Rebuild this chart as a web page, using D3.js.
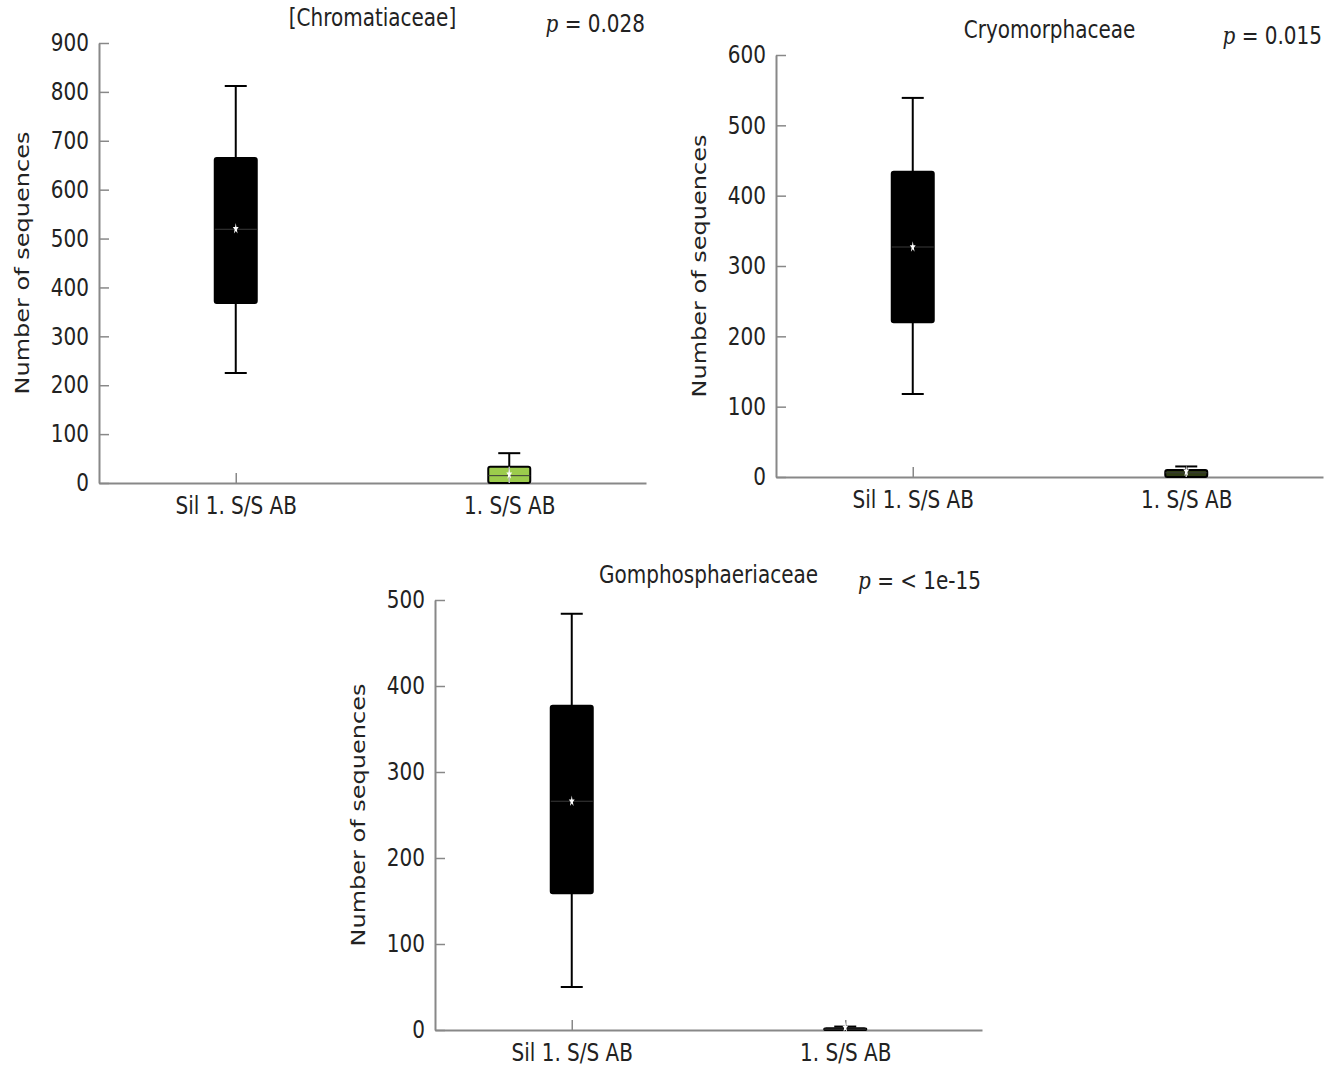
<!DOCTYPE html>
<html>
<head>
<meta charset="utf-8">
<script src="https://cdn.jsdelivr.net/npm/d3@7"></script>
<style>
  body { margin: 0; background: #fff; }
  svg { display: block; }
  text { font-family: "DejaVu Sans", sans-serif; fill: #222; }
</style>
</head>
<body>
<svg></svg>
<script>
const width = 1341;
const height = 1067;
const svg = d3.select("svg").attr("width", width).attr("height", height);

// data
const groups = ["Sil 1. S/S AB", "1. S/S AB"];
const titles = ["[Chromatiaceae]", "Cryomorphaceae", "Gomphosphaeriaceae"];
const pValues = ["0.028", "0.015", "< 1e-15"];
const yMax = [900, 600, 500];
const yStep = [100, 100, 100];
const whiskerLow = [[225, 0], [118, 0], [50, 0]];
const q1 = [[368, 0], [220, 0], [159, 0]];
const median = [[519, 15], [327, 6], [266, 1]];
const q3 = [[665, 33], [434, 10], [377, 2]];
const whiskerHigh = [[812, 61], [539, 15], [484, 4]];
const means = [[520, 18], [327, 8], [266, 3]];
const boxFill = [["#000000", "#9ccc4c"], ["#000000", "#2f3c14"], ["#000000", "#2a2a2a"]];

// panel frames
const panels = [
  { left: 99, top: 43, w: 547, h: 440 },
  { left: 776, top: 55, w: 547, h: 422 },
  { left: 435, top: 600, w: 547, h: 430 }
];

const stretch = 1.2;   // the original picture is stretched vertically
const boxW = 42;
const capW = 22;

panels.forEach((p, i) => {
  const g = svg.append("g").attr("transform", `translate(${p.left},${p.top})`);

  const x = d3.scalePoint().domain(groups).range([0, p.w]).padding(0.5);
  const y = d3.scaleLinear().domain([0, yMax[i]]).range([p.h, 0]);

  // y axis
  const yAxis = g.append("g")
    .call(d3.axisLeft(y).tickValues(d3.range(0, yMax[i] + 1, yStep[i]))
      .tickSizeInner(-10).tickSizeOuter(0).tickPadding(10));
  yAxis.select(".domain").attr("stroke", "#888").attr("stroke-width", 2);
  yAxis.selectAll(".tick line").attr("stroke", "#888").attr("stroke-width", 1.5);
  yAxis.selectAll("text").style("font-size", "20px").attr("fill", "#222")
    .attr("font-family", "DejaVu Sans")
    .attr("transform", `scale(1,${stretch})`);

  // x axis
  const xAxis = g.append("g").attr("transform", `translate(0,${p.h})`)
    .call(d3.axisBottom(x).tickSizeInner(-10).tickSizeOuter(0).tickPadding(12));
  xAxis.select(".domain").attr("stroke", "#888").attr("stroke-width", 2);
  xAxis.selectAll(".tick line").attr("stroke", "#888").attr("stroke-width", 1.5);
  xAxis.selectAll("text").style("font-size", "20px").attr("fill", "#222")
    .attr("font-family", "DejaVu Sans")
    .attr("transform", `scale(1,${stretch})`);

  // boxes
  groups.forEach((grp, j) => {
    const cx = x(grp);
    const b = g.append("g");
    b.append("line")
      .attr("x1", cx).attr("x2", cx)
      .attr("y1", y(whiskerLow[i][j])).attr("y2", y(q1[i][j]))
      .attr("stroke", "#000").attr("stroke-width", 2);
    b.append("line")
      .attr("x1", cx).attr("x2", cx)
      .attr("y1", y(q3[i][j])).attr("y2", y(whiskerHigh[i][j]))
      .attr("stroke", "#000").attr("stroke-width", 2);
    [whiskerLow[i][j], whiskerHigh[i][j]].forEach(v => {
      b.append("line")
        .attr("x1", cx - capW / 2).attr("x2", cx + capW / 2)
        .attr("y1", y(v)).attr("y2", y(v))
        .attr("stroke", "#000").attr("stroke-width", 2);
    });
    b.append("rect")
      .attr("x", cx - boxW / 2).attr("width", boxW)
      .attr("y", y(q3[i][j]))
      .attr("height", Math.max(1, y(q1[i][j]) - y(q3[i][j])))
      .attr("fill", boxFill[i][j]).attr("stroke", "#000").attr("stroke-width", 2)
      .attr("rx", 2);
    b.append("line")
      .attr("x1", cx - boxW / 2).attr("x2", cx + boxW / 2)
      .attr("y1", y(median[i][j])).attr("y2", y(median[i][j]))
      .attr("stroke", "#3a3a3a").attr("stroke-width", 1);
    b.append("line")
      .attr("x1", cx).attr("x2", cx)
      .attr("y1", y(q1[i][j])).attr("y2", y(q3[i][j]))
      .attr("stroke", j === 1 ? "#bbb" : "none").attr("stroke-width", 1.5);
    b.append("path")
      .attr("d", d3.symbol(d3.symbolStar, 22)())
      .attr("transform", `translate(${cx},${y(means[i][j])}) scale(0.7,1.3)`)
      .attr("fill", "#fff");
  });

  // title
  g.append("text")
    .attr("transform", `translate(${p.w / 2},${-17}) scale(1,${stretch})`)
    .attr("text-anchor", "middle")
    .style("font-size", "20px")
    .text(titles[i]);

  // p value
  const pt = g.append("text")
    .attr("transform", `translate(${p.w - 1},${-11}) scale(1,${stretch})`)
    .attr("text-anchor", "end")
    .style("font-size", "20px");
  pt.append("tspan").attr("font-family", "DejaVu Serif").attr("font-style", "italic").text("p");
  pt.append("tspan").text(" = " + pValues[i]);

  // y label
  g.append("text")
    .attr("transform", `translate(${-70},${p.h / 2}) scale(1,${stretch}) rotate(-90)`)
    .attr("text-anchor", "middle")
    .style("font-size", "20px")
    .text("Number of sequences");
});
</script>
</body>
</html>
